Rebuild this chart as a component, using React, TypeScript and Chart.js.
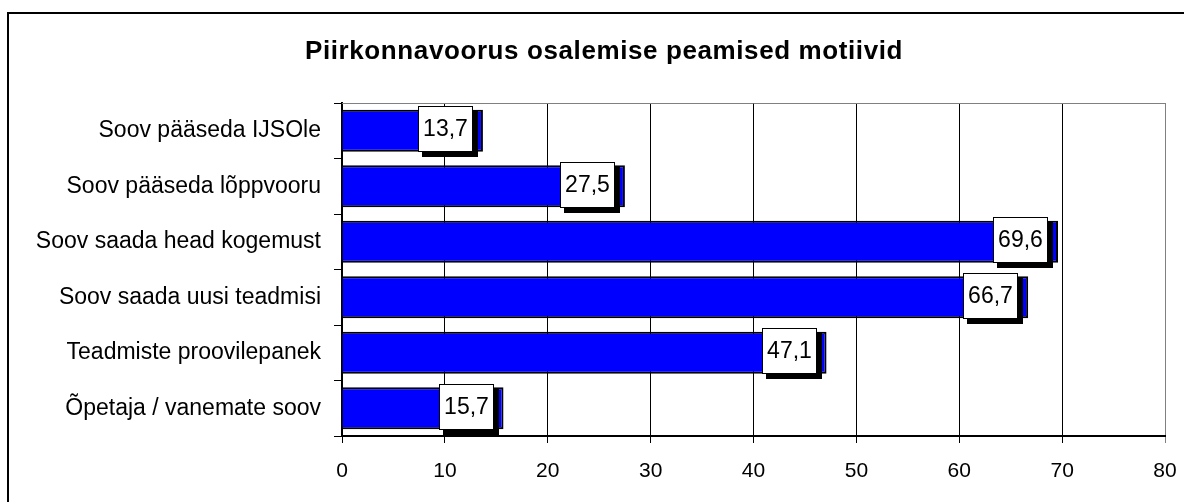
import React, { useEffect, useRef } from "react";
import { Chart, registerables } from "chart.js";

Chart.register(...registerables);

const title = "Piirkonnavoorus osalemise peamised motiivid";
const categories = [
  "Soov pääseda IJSOle",
  "Soov pääseda lõppvooru",
  "Soov saada head kogemust",
  "Soov saada uusi teadmisi",
  "Teadmiste proovilepanek",
  "Õpetaja / vanemate soov",
];
const values = [13.7, 27.5, 69.6, 66.7, 47.1, 15.7];
const xTicks = [0, 10, 20, 30, 40, 50, 60, 70, 80];

const FONT = "'Liberation Sans', Arial, sans-serif";

const decorPlugin = {
  id: "decor",
  beforeDraw(chart: any) {
    const { ctx } = chart;
    ctx.save();
    ctx.fillStyle = "#ffffff";
    ctx.fillRect(0, 0, chart.width, chart.height);
    ctx.fillStyle = "#000000";
    ctx.fillRect(7, 12, 2, chart.height - 12);
    ctx.fillRect(7, 12, chart.width - 7, 2);
    ctx.font = `bold 26px ${FONT}`;
    (ctx as any).letterSpacing = "0.6px";
    ctx.textAlign = "center";
    ctx.textBaseline = "middle";
    ctx.fillText(title, 604, 52);
    (ctx as any).letterSpacing = "0px";
    ctx.restore();
  },
  beforeDatasetsDraw(chart: any) {
    const { ctx, chartArea } = chart;
    ctx.save();
    ctx.strokeStyle = "#808080";
    ctx.lineWidth = 1;
    ctx.beginPath();
    ctx.moveTo(chartArea.left, Math.round(chartArea.top) + 0.5);
    ctx.lineTo(chartArea.right, Math.round(chartArea.top) + 0.5);
    ctx.stroke();
    ctx.restore();
  },
  afterDatasetsDraw(chart: any) {
    const { ctx } = chart;
    const meta = chart.getDatasetMeta(0);
    ctx.save();
    ctx.font = `23px ${FONT}`;
    meta.data.forEach((el: any, i: number) => {
      const txt = values[i].toFixed(1).replace(".", ",");
      const tw = ctx.measureText(txt).width;
      const w = Math.round(tw + 10);
      const h = 46;
      const right = Math.round(el.x - 10);
      const left = right - w;
      const top = Math.round(el.y - 1.5 - h / 2);
      ctx.fillStyle = "#000000";
      ctx.fillRect(left + 4, top + 5, w + 1, h);
      ctx.fillStyle = "#ffffff";
      ctx.fillRect(left, top, w, h);
      ctx.strokeStyle = "#000000";
      ctx.lineWidth = 1;
      ctx.strokeRect(left + 0.5, top + 0.5, w - 1, h - 1);
      ctx.fillStyle = "#000000";
      ctx.textAlign = "center";
      ctx.textBaseline = "middle";
      ctx.fillText(txt, left + w / 2, top + h / 2 + 1);
    });
    ctx.restore();
  },
};

export default function App() {
  const ref = useRef<HTMLCanvasElement>(null);
  useEffect(() => {
    if (!ref.current) return;
    const chart = new Chart(ref.current, {
      type: "bar",
      data: {
        labels: categories,
        datasets: [
          {
            data: values,
            backgroundColor: "#0000ff",
            borderColor: "#000000",
            borderWidth: 2,
            barPercentage: 0.76,
            categoryPercentage: 1,
          },
        ],
      },
      options: {
        indexAxis: "y",
        animation: false,
        responsive: false,
        maintainAspectRatio: false,
        layout: { padding: { top: 103, right: 19, left: 0, bottom: 0 } },
        plugins: {
          legend: { display: false },
          title: { display: false },
          tooltip: { enabled: false },
        },
        scales: {
          y: {
            type: "category",
            afterFit(scale: any) {
              scale.width = 342;
              scale.paddingTop = 0;
              scale.paddingBottom = 0;
            },
            ticks: {
              color: "#000000",
              font: { family: FONT, size: 23 },
              padding: 13,
            },
            grid: {
              drawOnChartArea: false,
              offset: true,
              color: "#000000",
              tickLength: 8,
              lineWidth: 1,
            },
            border: { color: "#000000", width: 2 },
          },
          x: {
            type: "linear",
            min: 0,
            max: 80,
            afterFit(scale: any) {
              scale.height = 66;
              scale.paddingLeft = 0;
              scale.paddingRight = 0;
            },
            afterBuildTicks(scale: any) {
              scale.ticks = xTicks.map((v) => ({ value: v }));
            },
            ticks: {
              color: "#000000",
              font: { family: FONT, size: 21 },
              padding: 16,
              maxRotation: 0,
              autoSkip: false,
            },
            grid: {
              color: (c: any) => (c.tick && c.tick.value === 80 ? "#808080" : "#000000"),
              lineWidth: 1,
              tickLength: 7,
            },
            border: { color: "#000000", width: 2 },
          },
        },
      },
      plugins: [decorPlugin],
    });
    return () => chart.destroy();
  }, []);
  return (
    <div style={{ position: "fixed", inset: 0, background: "#fff", overflow: "hidden" }}>
      <canvas
        ref={ref}
        width={1184}
        height={502}
        style={{ position: "absolute", left: 0, top: 0, width: 1184, height: 502, display: "block" }}
      />
    </div>
  );
}
